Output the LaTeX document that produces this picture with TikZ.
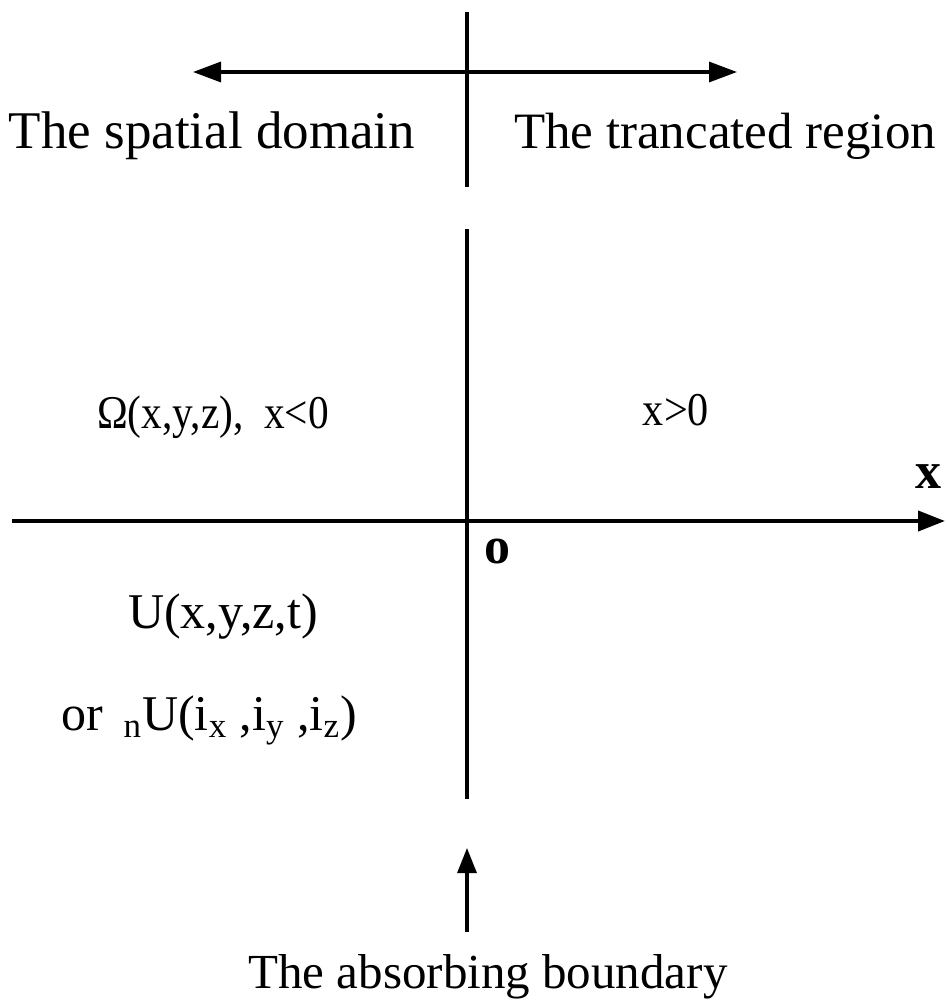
\documentclass[tikz,border=0pt]{standalone}
\usepackage{fontspec}
\setmainfont{Liberation Serif}
\usetikzlibrary{arrows.meta}
\begin{document}
\begin{tikzpicture}[x=0.5pt,y=-0.5pt,
  ln/.style={line width=2pt,black},
  thinln/.style={line width=1.6pt,black},
  lbl/.style={inner sep=0pt,anchor=base,font=\fontsize{25.5}{30}\selectfont},
  mlbl/.style={inner sep=0pt,anchor=base,font=\fontsize{23.5}{28}\selectfont},
  blbl/.style={inner sep=0pt,font=\fontsize{26}{30}\selectfont\bfseries}]
\useasboundingbox (0,0) rectangle (947,1007);
% coordinates
\coordinate (tvtop) at (467,12);
\coordinate (tvbot) at (467,187);
\coordinate (tal) at (193,72);
\coordinate (tar) at (737,72);
\coordinate (vtop) at (467,229);
\coordinate (vbot) at (467,799);
\coordinate (axl) at (12,521);
\coordinate (axr) at (945,521);
\coordinate (btail) at (467,932);
\coordinate (bhead) at (467,848);
% lines
\draw[ln] (tvtop) -- (tvbot);
\draw[thinln,{Triangle[length=14pt,width=10pt]}-{Triangle[length=14pt,width=10pt]}] (tal) -- (tar);
\draw[ln] (vtop) -- (vbot);
\draw[ln,-{Triangle[length=13.5pt,width=10pt]}] (axl) -- (axr);
\draw[thinln,-{Triangle[length=12.5pt,width=9.5pt]}] (btail) -- (bhead);
% labels
\node[lbl,font=\fontsize{26.5}{30}\selectfont] (spatial) at (212,148) {The spatial domain};
\node[lbl] (trunc) at (725,148) {The trancated region};
\node[mlbl] (omega) at (213,428) {\scalebox{0.88}[1]{Ω(x,y,z),\ \ x<0}};
\node[mlbl] (xpos) at (676,425) {\scalebox{0.9}[1]{x>0}};
\node[blbl] (xlab) at (928,477) {x};
\node[blbl] (olab) at (497,551) {o};
\node[lbl,font=\fontsize{25}{30}\selectfont] (ufun) at (223,628) {U(x,y,z,t)};
\node[lbl,font=\fontsize{25}{30}\selectfont] (nufun) at (209,730) {or \,\textsubscript{n}U(i\textsubscript{x} ,i\textsubscript{y} ,i\textsubscript{z})};
\node[lbl,font=\fontsize{24.5}{30}\selectfont] (absorb) at (488,988) {The absorbing boundary};
\end{tikzpicture}
\end{document}
